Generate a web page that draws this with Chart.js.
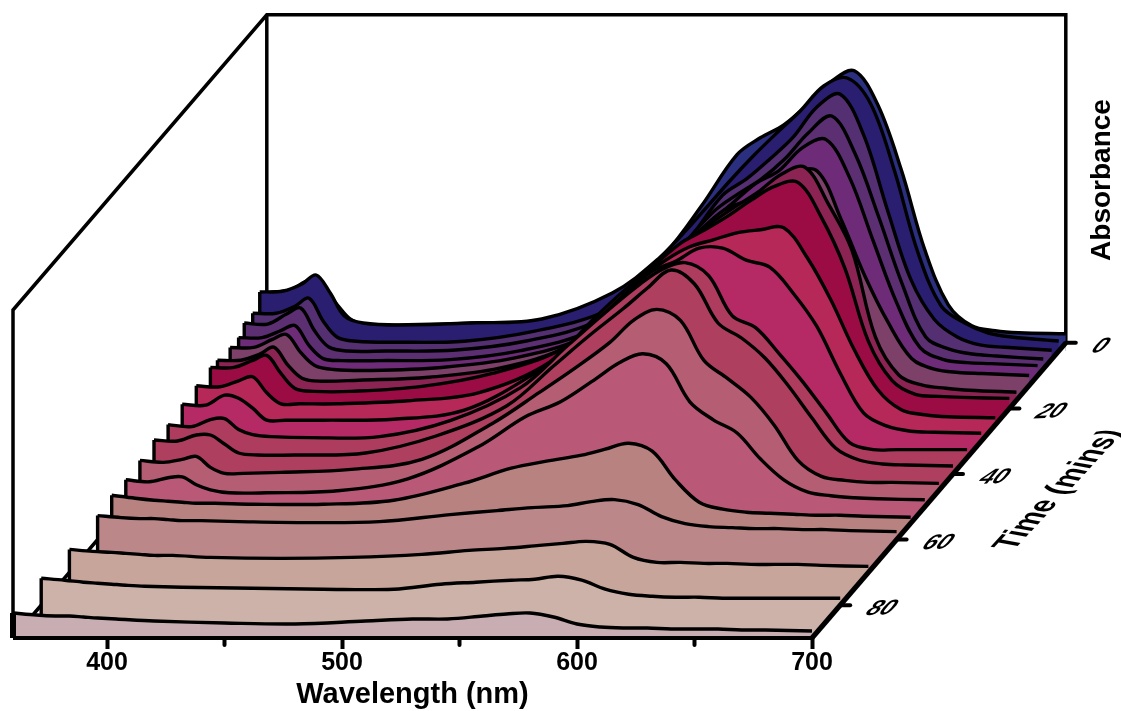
<!DOCTYPE html>
<html>
<head>
<meta charset="utf-8">
<title>Absorbance waterfall</title>
<script src="https://cdn.jsdelivr.net/npm/chart.js@4/dist/chart.umd.min.js"></script>
<style>
  html, body { margin: 0; background: #fff; }
  #wrap { width: 1121px; height: 711px; }
</style>
</head>
<body>
<div id="wrap"><canvas id="chart"></canvas></div>
<script>
var wavelengths = [360,370,378,384,390,396,404,420,450,480,510,530,545,560,570,580,590,600,610,620,630,640,650,660,670,680,700];

// absorbance (arbitrary units) of each scan
var a90 = [25,23,22,22,21,20,19,17,15,14,17,19,19,22,24,25,21,14,11,10,10,9,9,9,8,8,7];
var a80 = [27,25,23,22,21,20,19,18,17,16,16,21,23,25,26,29,25,16,11,9,8,8,7,7,7,7,7];
var a70 = [23,21,20,19,18,17,17,15,14,15,18,22,24,27,29,31,28,15,10,10,9,9,8,8,8,7,6];
var a60 = [24,22,21,21,20,19,19,18,17,18,25,29,32,34,38,40,35,23,16,13,12,11,11,10,10,9,8];
var a55 = [28,25,23,22,21,20,20,19,19,23,40,55,62,68,74,80,72,43,21,14,11,10,9,8,8,7,6];
var a50 = [27,25,29,30,22,17,14,14,16,28,60,90,105,128,144,153,143,105,87,74,48,27,15,11,9,8,7];
var a45 = [30,28,31,34,23,17,17,18,21,31,67,98,122,148,170,181,170,130,112,93,65,30,14,10,8,8,7];
var a40 = [34,33,39,39,30,21,19,19,21,38,68,108,138,166,186,204,190,151,136,116,88,56,26,14,10,9,8];
var a35 = [33,31,38,39,28,23,21,20,21,37,70,112,143,172,188,195,182,142,130,104,76,45,15,8,8,8,8];
var a30 = [37,36,46,43,33,21,21,21,22,31,68,104,140,170,180,193,193,181,174,148,115,68,28,15,10,9,8];
var a25 = [39,38,44,48,32,21,21,21,24,32,62,108,140,165,178,185,192,195,197,167,125,75,35,15,10,8,7];
var a20 = [41,41,48,53,35,20,17,17,22,35,60,100,135,165,178,192,208,222,226,191,140,67,28,14,12,11,10];
var a17 = [40,40,46,53,35,22,19,20,23,32,55,95,130,160,177,193,208,226,233,196,150,63,25,15,12,10,8];
var a13 = [38,38,46,51,33,20,16,15,18,27,48,85,120,155,175,185,195,213,214,166,110,63,27,16,13,12,10];
var a10 = [38,38,45,50,30,17,15,15,16,25,45,80,115,152,172,192,205,228,236,198,135,73,28,16,13,12,10];
var a8 = [46,45,55,61,38,22,18,18,19,28,48,85,120,158,175,190,210,236,253,215,152,85,32,20,15,13,10];
var a5 = [46,46,53,61,38,22,18,17,18,28,48,82,118,164,180,200,222,252,265,224,150,80,40,22,14,12,9];
var a2 = [59,60,67,76,58,35,28,26,28,32,58,93,130,170,195,218,240,265,273,247,181,99,45,28,18,14,10];
var a0 = [50,53,62,55,38,23,17,18,20,23,52,91,137,188,205,218,238,261,272,238,173,93,38,17,12,10,9];

// front to back, so the first dataset ends up on top
var times = [90,80,70,60,55,50,45,40,35,30,25,20,17.5,13,10,8,5,2.5,0];
var scans = [a90,a80,a70,a60,a55,a50,a45,a40,a35,a30,a25,a20,a17,a13,a10,a8,a5,a2,a0];
var colors = ["#c8aeb2","#ccb2a9","#c7a59b","#bb8788","#b78280","#ba5977","#b55d72","#ae3f5f","#ae3c5e",
  "#b52a64","#b52858","#9c0c44","#8b2353","#7d4068","#6e2c78","#5b2f72","#543073","#2a1e70","#2b2f80"];

var xTicks = [400,500,600,700];
var xMinorTicks = [450,550,650];
var timeTicks = [0,20,40,60,80];
var wallHeight = 328;
var tMax = 90;

// oblique projection: older scans are pushed right and up
function project(lambda, t, a) {
  return { x: lambda + (tMax - t) * 1.2, y: a + (tMax - t) * 3.28 };
}

function strokeOnly(points, width, order) {
  return { data: points, borderColor: "#000", borderWidth: width, pointRadius: 0, fill: false, clip: false, order: order };
}

var datasets = [];

// axes over the slabs
datasets.push(strokeOnly([project(700, 90, 0), project(700, 0, 0)], 5, 0));
datasets.push(strokeOnly([project(360, 90, 0), project(360, 90, 25)], 6, 0));
datasets.push(strokeOnly([project(360, 90, 0), project(700, 90, 0)], 4, 0));

// white under the time axis: slabs are filled down to the next scan and would stick out here
datasets.push({
  data: [project(700, 90, 0), project(700, 0, 0)],
  borderWidth: 0,
  backgroundColor: "#fff",
  fill: { value: 0 },
  pointRadius: 0,
  clip: false,
  order: 0
});

scans.forEach(function (scan, i) {
  var t = times[i];
  var next = i > 0 ? times[i - 1] : t;
  var pts = wavelengths.map(function (w, k) { return project(w, t, scan[k]); });
  // left edge of the slab
  datasets.push(strokeOnly([project(360, t, scan[0]), { x: project(360, t, 0).x, y: project(360, next, 0).y }], 3.4, i + 1));
  datasets.push({
    data: pts,
    borderColor: "#000",
    borderWidth: 3.4,
    backgroundColor: colors[i],
    fill: { value: (tMax - next) * 3.28 },
    pointRadius: 0,
    tension: 0.35,
    clip: false,
    order: i + 1
  });
});

// box behind everything
datasets.push(strokeOnly([project(360, 90, 0), project(360, 90, wallHeight), project(360, 0, wallHeight), project(700, 0, wallHeight), project(700, 0, 0)], 3.5, 100));
datasets.push(strokeOnly([project(360, 0, wallHeight), project(360, 0, 0), project(360, 90, 0)], 3.5, 100));

var extras = {
  id: "extras",
  afterDraw: function (chart) {
    var ctx = chart.ctx, sx = chart.scales.x, sy = chart.scales.y;
    ctx.save();
    ctx.strokeStyle = "#000";
    ctx.fillStyle = "#000";
    ctx.lineCap = "round";

    ctx.lineWidth = 4;
    xMinorTicks.forEach(function (w) {
      ctx.beginPath();
      ctx.moveTo(sx.getPixelForValue(w), sy.getPixelForValue(0));
      ctx.lineTo(sx.getPixelForValue(w), sy.getPixelForValue(0) + 7);
      ctx.stroke();
    });

    timeTicks.forEach(function (t) {
      var p = project(700, t, 0);
      var px = sx.getPixelForValue(p.x), py = sy.getPixelForValue(p.y);
      ctx.beginPath();
      ctx.moveTo(px, py);
      ctx.lineTo(px + 10, py);
      ctx.stroke();
      ctx.save();
      ctx.transform(1, -0.04, -0.75, 0.9, px + 23, py + 10);
      ctx.font = "bold 24px 'Liberation Sans'";
      ctx.textBaseline = "alphabetic";
      ctx.fillText(String(t), 0, 0);
      ctx.restore();
    });

    ctx.save();
    ctx.textAlign = "center";
    ctx.textBaseline = "middle";
    ctx.font = "bold 29px 'Liberation Sans'";
    ctx.fillText("Wavelength (nm)", sx.getPixelForValue(530), 695);
    ctx.restore();

    ctx.save();
    ctx.transform(0.66, -0.71, 1.1, 0.2, 1013, 551);
    ctx.font = "bold 30px 'Liberation Sans'";
    ctx.textBaseline = "alphabetic";
    ctx.fillText("Time (mins)", 0, 0);
    ctx.restore();

    ctx.save();
    ctx.translate(1102, 180);
    ctx.rotate(-Math.PI / 2);
    ctx.font = "bold 28px 'Liberation Sans'";
    ctx.textAlign = "center";
    ctx.textBaseline = "middle";
    ctx.fillText("Absorbance", 0, 0);
    ctx.restore();
    ctx.restore();
  }
};

new Chart(document.getElementById("chart"), {
  type: "line",
  data: { datasets: datasets },
  plugins: [extras],
  options: {
    responsive: true,
    maintainAspectRatio: false,
    animation: false,
    layout: { padding: { left: 13, right: 0, top: 8, bottom: 0 } },
    plugins: { legend: { display: false }, tooltip: { enabled: false } },
    scales: {
      x: {
        type: "linear",
        min: 360,
        // the plot runs on past 700 nm: later scans are shifted to the right
        max: 360 + 1108 / 2.35,
        afterBuildTicks: function (s) { s.ticks = xTicks.map(function (v) { return { value: v }; }); },
        afterFit: function (s) { s.height = 73; },
        grid: { drawOnChartArea: false, drawTicks: true, tickLength: 11, tickWidth: 4, tickColor: "#000", z: 1 },
        border: { display: false },
        ticks: {
          color: "#000",
          maxRotation: 0,
          autoSkip: false,
          padding: 2,
          font: { family: "'Liberation Sans'", weight: "bold", size: 25, lineHeight: 1 }
        }
      },
      y: { display: false, min: 0, max: 630 }
    }
  }
});
</script>
</body>
</html>
